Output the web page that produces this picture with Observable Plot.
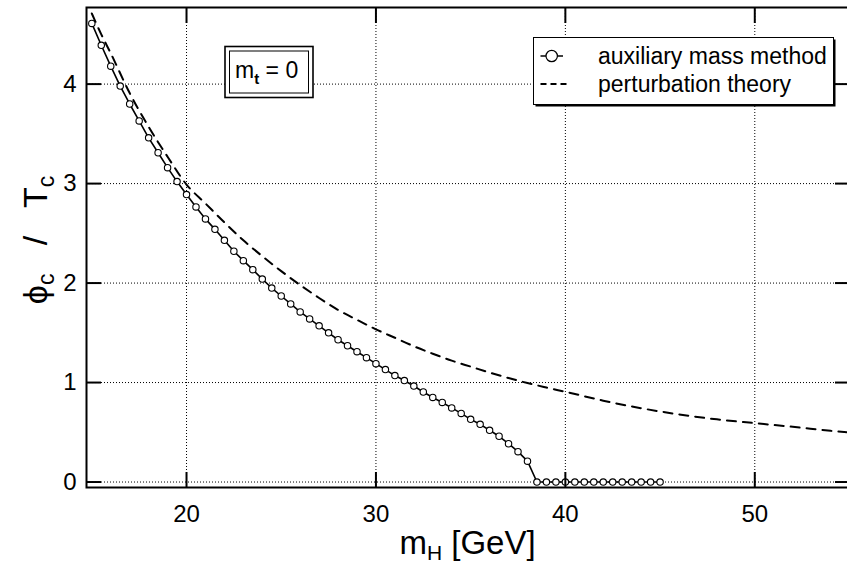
<!DOCTYPE html>
<html><head><meta charset="utf-8">
<script src="https://cdn.jsdelivr.net/npm/d3@7"></script>
<script src="https://cdn.jsdelivr.net/npm/@observablehq/plot@0.6"></script>
<style>
html,body{margin:0;padding:0;background:#fff;overflow:hidden;}
#chart{width:847px;height:565px;overflow:hidden;position:relative;}
#chart svg{display:block;max-width:none;}
</style></head><body><div id="chart"></div>
<script>
// Higgs mass m_H [GeV] for the auxiliary mass method points
const mH = [15,15.5,16,16.5,17,17.5,18,18.5,19,19.5,
  20,20.5,21,21.5,22,22.5,23,23.5,24,24.5,
  25,25.5,26,26.5,27,27.5,28,28.5,29,29.5,
  30,30.5,31,31.5,32,32.5,33,33.5,34,34.5,
  35,35.5,36,36.5,37,37.5,38,38.5,39,39.5,
  40,40.5,41,41.5,42,42.5,43,43.5,44,44.5,45];
// phi_c / T_c, auxiliary mass method
const auxPhi = [4.61,4.39,4.18,3.98,3.80,3.63,3.46,3.31,3.16,3.02,
  2.89,2.765,2.645,2.54,2.43,2.32,2.225,2.135,2.04,1.95,
  1.87,1.79,1.71,1.64,1.57,1.50,1.43,1.37,1.31,1.25,
  1.19,1.13,1.07,1.02,0.965,0.905,0.85,0.80,0.745,0.69,
  0.63,0.58,0.52,0.46,0.385,0.305,0.21,0,0,0,
  0,0,0,0,0,0,0,0,0,0,0];
// perturbation theory curve
const ptMH = [15,15.5,16,17,18,19,20,21,22,23,24,25,26,27,28,29,30,31,32,33,34,35,36,37,38,39,40,42,44,46,48,50,52,54,55];
const ptPhi = [4.71,4.50,4.31,3.91,3.57,3.27,2.99,2.80,2.61,2.43,2.27,2.12,1.98,1.85,1.73,1.63,1.535,1.45,1.365,1.29,1.22,1.16,1.10,1.045,0.995,0.95,0.907,0.818,0.742,0.680,0.630,0.592,0.555,0.515,0.497];

const xTicks = [20,30,40,50];
const yTicks = [0,1,2,3,4];
const legendLabels = ["auxiliary mass method","perturbation theory"];

const aux = mH.map((m,i)=>({m, phi: auxPhi[i]}));
const pt = ptMH.map((m,i)=>({m, phi: ptPhi[i]}));

const font = "'Liberation Sans', Arial, Helvetica, sans-serif";
const W = 849, H = 565;

const plot = Plot.plot({
  width: W, height: H,
  marginLeft: 86, marginRight: 0, marginTop: 7, marginBottom: 78,
  style: {fontFamily: font, background: "white", color: "black", maxWidth: "none", overflow: "visible"},
  x: {domain: [14.72, 55], label: null},
  y: {domain: [-0.055, 4.77], label: null},
  marks: [
    Plot.gridX(xTicks, {stroke: "black", strokeOpacity: 1, strokeWidth: 1, strokeDasharray: "1,2"}),
    Plot.gridY(yTicks, {stroke: "black", strokeOpacity: 1, strokeWidth: 1, strokeDasharray: "1,2"}),
    Plot.line(pt, {x: "m", y: "phi", stroke: "black", strokeWidth: 2, strokeDasharray: "9,7", curve: "monotone-x"}),
    Plot.line(aux, {x: "m", y: "phi", stroke: "black", strokeWidth: 1.6}),
    Plot.dot(aux, {x: "m", y: "phi", r: 3.2, fill: "white", stroke: "black", strokeWidth: 1.1}),
    // inward ticks on all four sides
    Plot.axisX(xTicks, {anchor: "bottom", tickSize: 15, dy: -15, tickFormat: () => "", strokeWidth: 2, label: null}),
    Plot.axisX(xTicks, {anchor: "top", tickSize: 15, dy: 15, tickFormat: () => "", strokeWidth: 2, label: null}),
    Plot.axisY(yTicks, {anchor: "left", tickSize: 15, dx: 15, tickFormat: () => "", strokeWidth: 2, label: null}),
    Plot.axisY(yTicks, {anchor: "right", tickSize: 15, dx: -15, tickFormat: () => "", strokeWidth: 2, label: null}),
    // tick labels
    Plot.axisX(xTicks, {anchor: "bottom", tickSize: 0, tickPadding: 17, fontSize: 24, tickFormat: d => String(d), label: null}),
    Plot.axisY(yTicks, {anchor: "left", tickSize: 0, tickPadding: 10, fontSize: 24, tickFormat: d => String(d), label: null}),
    Plot.frame({stroke: "black", strokeWidth: 2})
  ]
});
document.getElementById("chart").appendChild(plot);

const svg = d3.select(plot);
// x-axis title
const xt = svg.append("text").attr("x", 467.5).attr("y", 554).attr("text-anchor", "middle")
  .attr("font-family", font).attr("font-size", 33).attr("fill", "black");
xt.append("tspan").text("m");
xt.append("tspan").attr("font-size", 21).attr("dy", 6).text("H");
xt.append("tspan").attr("dy", -6).text(" [GeV]");

// y-axis title
const yt = svg.append("text").attr("transform", "translate(47,240) rotate(-90)").attr("text-anchor", "middle")
  .attr("font-family", font).attr("font-size", 34).attr("fill", "black").attr("xml:space", "preserve");
yt.append("tspan").text("ϕ");
yt.append("tspan").attr("font-size", 23).attr("dy", 7).text("c");
yt.append("tspan").attr("dy", -7).text("   /   T");
yt.append("tspan").attr("font-size", 23).attr("dy", 7).text("c");

// inset box m_t = 0
const ins = svg.append("g");
ins.append("rect").attr("x", 225).attr("y", 46.5).attr("width", 88).attr("height", 51)
  .attr("fill", "white").attr("stroke", "black").attr("stroke-width", 1.6);
ins.append("rect").attr("x", 229.5).attr("y", 51).attr("width", 79).attr("height", 42)
  .attr("fill", "none").attr("stroke", "black").attr("stroke-width", 1);
const it = ins.append("text").attr("x", 235).attr("y", 78).attr("text-anchor", "start").attr("font-family", font)
  .attr("font-size", 23).attr("fill", "black");
it.append("tspan").text("m");
it.append("tspan").attr("font-size", 15).attr("dy", 6).attr("font-weight", "bold").text("t");
it.append("tspan").attr("dy", -6).text(" = 0");

// legend
const lg = svg.append("g");
lg.append("rect").attr("x", 535.5).attr("y", 39.5).attr("width", 300).attr("height", 67).attr("fill", "black");
lg.append("rect").attr("x", 533.5).attr("y", 37.5).attr("width", 300).attr("height", 67)
  .attr("fill", "white").attr("stroke", "black").attr("stroke-width", 1);
lg.append("line").attr("x1", 540.5).attr("x2", 563).attr("y1", 56).attr("y2", 56).attr("stroke", "black").attr("stroke-width", 1.5);
lg.append("circle").attr("cx", 551.7).attr("cy", 56).attr("r", 5.7).attr("fill", "white").attr("stroke", "black").attr("stroke-width", 1.2);
lg.append("line").attr("x1", 540.5).attr("x2", 566.5).attr("y1", 84).attr("y2", 84).attr("stroke", "black").attr("stroke-width", 2).attr("stroke-dasharray", "6,4");
lg.selectAll("text.lab").data(legendLabels).join("text").attr("class", "lab")
  .attr("x", 598).attr("y", (d, i) => i === 0 ? 63.5 : 91.5).attr("text-anchor", "start")
  .attr("font-family", font).attr("font-size", 23).attr("fill", "black").text(d => d);
</script></body></html>
